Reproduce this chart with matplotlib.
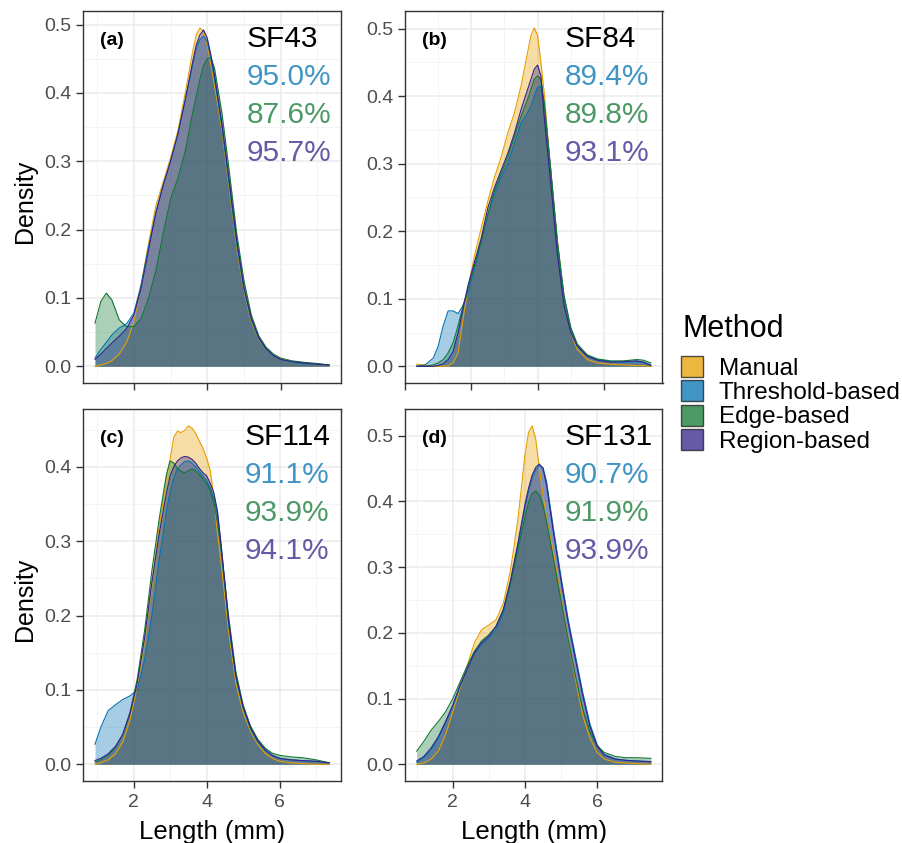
import matplotlib
matplotlib.use('Agg')
import matplotlib.pyplot as plt
from matplotlib.patches import Patch
from matplotlib.ticker import MultipleLocator, FormatStrFormatter

plt.rcParams['font.family'] = ['Liberation Sans', 'DejaVu Sans']

methods = ['Manual', 'Threshold-based', 'Edge-based', 'Region-based']
colors = ['#E69F00', '#0072B2', '#117733', '#332288']

# (a) SF43
x_a = [0.94, 1.1, 1.25, 1.4, 1.6, 1.8, 2.0, 2.2, 2.4, 2.6, 2.8, 3.0, 3.2, 3.4, 3.6, 3.7, 3.8,
       3.9, 4.0, 4.1, 4.2, 4.4, 4.6, 4.8, 5.0, 5.2, 5.4, 5.6, 5.8, 6.0, 6.3, 6.6, 7.0, 7.32]
manual_a = [0.0, 0.002, 0.004, 0.008, 0.018, 0.035, 0.065, 0.12, 0.18, 0.235, 0.27, 0.305, 0.345,
            0.40, 0.46, 0.485, 0.495, 0.49, 0.47, 0.44, 0.41, 0.345, 0.26, 0.175, 0.11, 0.065,
            0.04, 0.025, 0.015, 0.01, 0.006, 0.005, 0.003, 0.002]
thresh_a = [0.012, 0.025, 0.035, 0.046, 0.056, 0.062, 0.078, 0.12, 0.175, 0.225, 0.265, 0.30, 0.34,
            0.39, 0.44, 0.465, 0.478, 0.483, 0.475, 0.45, 0.42, 0.35, 0.265, 0.18, 0.113, 0.068,
            0.041, 0.025, 0.015, 0.01, 0.006, 0.004, 0.003, 0.002]
edge_a = [0.063, 0.095, 0.107, 0.097, 0.068, 0.058, 0.058, 0.07, 0.10, 0.14, 0.195, 0.245, 0.275,
          0.315, 0.37, 0.395, 0.42, 0.44, 0.45, 0.452, 0.435, 0.37, 0.285, 0.195, 0.125, 0.075,
          0.045, 0.028, 0.018, 0.012, 0.008, 0.006, 0.004, 0.002]
region_a = [0.01, 0.018, 0.026, 0.034, 0.044, 0.055, 0.075, 0.115, 0.17, 0.225, 0.265, 0.30, 0.34,
            0.39, 0.445, 0.47, 0.485, 0.492, 0.48, 0.455, 0.425, 0.355, 0.27, 0.185, 0.115, 0.07,
            0.042, 0.026, 0.016, 0.01, 0.007, 0.005, 0.003, 0.002]

# (b) SF84
x_b = [0.35, 0.6, 0.85, 1.0, 1.15, 1.3, 1.45, 1.6, 1.75, 1.9, 2.1, 2.3, 2.5, 2.7, 2.9, 3.1, 3.3, 3.5,
       3.7, 3.8, 3.9, 4.0, 4.1, 4.2, 4.4, 4.6, 4.8, 5.0, 5.2, 5.5, 5.8, 6.2, 6.6, 7.0, 7.2, 7.42]
manual_b = [0.003, 0.002, 0.0, 0.0, 0.0, 0.001, 0.005, 0.02, 0.07, 0.115, 0.165, 0.205, 0.245, 0.28,
            0.31, 0.345, 0.375, 0.415, 0.465, 0.49, 0.501, 0.49, 0.45, 0.405, 0.285, 0.185, 0.10,
            0.05, 0.025, 0.01, 0.005, 0.003, 0.002, 0.001, 0.001, 0.0]
thresh_b = [0.0, 0.002, 0.012, 0.03, 0.06, 0.082, 0.082, 0.078, 0.09, 0.11, 0.145, 0.185, 0.225,
            0.255, 0.28, 0.30, 0.33, 0.36, 0.375, 0.385, 0.40, 0.413, 0.415, 0.39, 0.29, 0.18, 0.1,
            0.055, 0.03, 0.015, 0.01, 0.007, 0.006, 0.007, 0.006, 0.002]
edge_b = [0.0, 0.0, 0.002, 0.005, 0.01, 0.02, 0.035, 0.06, 0.09, 0.115, 0.15, 0.185, 0.225, 0.26,
          0.285, 0.31, 0.34, 0.37, 0.395, 0.41, 0.425, 0.43, 0.425, 0.39, 0.29, 0.185, 0.105, 0.058,
          0.033, 0.017, 0.011, 0.008, 0.008, 0.01, 0.009, 0.005]
region_b = [0.0, 0.0, 0.0, 0.001, 0.004, 0.01, 0.022, 0.05, 0.085, 0.12, 0.155, 0.19, 0.235, 0.265,
            0.29, 0.315, 0.345, 0.38, 0.41, 0.425, 0.44, 0.446, 0.43, 0.37, 0.27, 0.165, 0.09, 0.05,
            0.03, 0.015, 0.009, 0.006, 0.007, 0.008, 0.006, 0.001]

# (c) SF114
x_c = [0.94, 1.1, 1.3, 1.5, 1.7, 1.9, 2.1, 2.3, 2.5, 2.7, 2.9, 3.0, 3.1, 3.2, 3.3, 3.4, 3.5, 3.6, 3.7,
       3.8, 3.9, 4.0, 4.1, 4.2, 4.3, 4.4, 4.6, 4.8, 5.0, 5.2, 5.4, 5.6, 5.8, 6.0, 6.3, 6.6, 7.0, 7.36]
manual_c = [0.0, 0.002, 0.006, 0.014, 0.03, 0.06, 0.105, 0.165, 0.24, 0.32, 0.385, 0.41, 0.44,
            0.448, 0.446, 0.449, 0.455, 0.452, 0.445, 0.435, 0.425, 0.412, 0.395, 0.36, 0.31, 0.27,
            0.18, 0.11, 0.07, 0.045, 0.027, 0.015, 0.008, 0.004, 0.002, 0.001, 0.0, 0.0]
thresh_c = [0.027, 0.05, 0.072, 0.08, 0.087, 0.092, 0.1, 0.14, 0.2, 0.275, 0.34, 0.366, 0.385, 0.397,
            0.403, 0.407, 0.408, 0.405, 0.4, 0.394, 0.388, 0.382, 0.372, 0.358, 0.335, 0.29, 0.19,
            0.118, 0.076, 0.048, 0.03, 0.019, 0.012, 0.008, 0.006, 0.005, 0.004, 0.002]
edge_c = [0.003, 0.006, 0.012, 0.022, 0.04, 0.07, 0.115, 0.18, 0.26, 0.33, 0.39, 0.408, 0.405, 0.398,
          0.394, 0.392, 0.395, 0.397, 0.395, 0.39, 0.384, 0.378, 0.368, 0.352, 0.325, 0.29, 0.2,
          0.125, 0.08, 0.052, 0.034, 0.022, 0.015, 0.012, 0.01, 0.009, 0.006, 0.002]
region_c = [0.005, 0.008, 0.014, 0.024, 0.04, 0.068, 0.11, 0.17, 0.245, 0.31, 0.365, 0.388, 0.4,
            0.408, 0.412, 0.414, 0.413, 0.41, 0.405, 0.398, 0.392, 0.388, 0.378, 0.365, 0.34, 0.295,
            0.195, 0.12, 0.078, 0.05, 0.032, 0.02, 0.012, 0.008, 0.006, 0.005, 0.004, 0.002]

# (d) SF131
x_d = [1.0, 1.2, 1.4, 1.6, 1.8, 2.0, 2.2, 2.4, 2.6, 2.8, 3.0, 3.2, 3.4, 3.6, 3.8, 3.9, 4.0, 4.1, 4.2,
       4.3, 4.4, 4.5, 4.6, 4.8, 5.0, 5.2, 5.4, 5.6, 5.8, 6.0, 6.2, 6.5, 6.8, 7.1, 7.49]
manual_d = [0.0, 0.002, 0.008, 0.02, 0.045, 0.08, 0.115, 0.15, 0.185, 0.205, 0.212, 0.22, 0.245,
            0.295, 0.37, 0.42, 0.47, 0.505, 0.515, 0.495, 0.45, 0.41, 0.375, 0.32, 0.255, 0.19, 0.13,
            0.075, 0.04, 0.018, 0.008, 0.003, 0.002, 0.001, 0.0]
thresh_d = [0.003, 0.01, 0.022, 0.04, 0.063, 0.088, 0.118, 0.145, 0.168, 0.183, 0.192, 0.205, 0.23,
            0.275, 0.33, 0.36, 0.39, 0.415, 0.435, 0.448, 0.455, 0.452, 0.43, 0.355, 0.285, 0.22,
            0.165, 0.11, 0.062, 0.03, 0.015, 0.008, 0.006, 0.005, 0.004]
edge_d = [0.02, 0.035, 0.052, 0.065, 0.08, 0.1, 0.125, 0.15, 0.172, 0.188, 0.197, 0.21, 0.235, 0.275,
          0.325, 0.35, 0.375, 0.398, 0.412, 0.416, 0.41, 0.395, 0.37, 0.31, 0.25, 0.19, 0.135, 0.085,
          0.05, 0.028, 0.018, 0.012, 0.01, 0.01, 0.009]
region_d = [0.005, 0.012, 0.025, 0.042, 0.065, 0.09, 0.12, 0.145, 0.17, 0.185, 0.195, 0.21, 0.235,
            0.28, 0.335, 0.365, 0.395, 0.42, 0.44, 0.452, 0.457, 0.45, 0.425, 0.35, 0.28, 0.215, 0.16,
            0.105, 0.058, 0.028, 0.014, 0.008, 0.006, 0.005, 0.004]

samples = ['SF43', 'SF84', 'SF114', 'SF131']
tags = ['(a)', '(b)', '(c)', '(d)']
acc_thresh = ['95.0%', '89.4%', '91.1%', '90.7%']
acc_edge = ['87.6%', '89.8%', '93.9%', '91.9%']
acc_region = ['95.7%', '93.1%', '94.1%', '93.9%']

panels = [
    (x_a, [manual_a, thresh_a, edge_a, region_a]),
    (x_b, [manual_b, thresh_b, edge_b, region_b]),
    (x_c, [manual_c, thresh_c, edge_c, region_c]),
    (x_d, [manual_d, thresh_d, edge_d, region_d]),
]

W, H = 903, 843
fig = plt.figure(figsize=(W / 100, H / 100), dpi=100)
boxes = [(83.3, 11), (405, 11), (83.3, 409), (405, 409)]
pw, ph = 257.5, 372.2
txt_x = [0.635, 0.621, 0.628, 0.621]

for i, (xs, series) in enumerate(panels):
    l, t = boxes[i]
    ax = fig.add_axes([l / W, 1 - (t + ph) / H, pw / W, ph / H])
    for ys, c in zip(series, colors):
        ax.fill_between(xs, ys, color=c, alpha=0.35, lw=0)
        ax.plot(xs, ys, color=c, lw=0.8)
    ax.margins(x=0.05, y=0.05)
    ax.xaxis.set_major_locator(MultipleLocator(2))
    ax.xaxis.set_minor_locator(MultipleLocator(1))
    ax.yaxis.set_major_locator(MultipleLocator(0.1))
    ax.yaxis.set_minor_locator(MultipleLocator(0.05))
    ax.set_axisbelow(True)
    ax.grid(which='major', color='#EBEBEB', lw=1.1)
    ax.grid(which='minor', color='#F2F2F2', lw=0.6)
    ax.tick_params(which='major', length=4.8, width=1.0, color='#333333', labelcolor='#4D4D4D',
                   labelsize=14)
    ax.tick_params(axis='y', pad=3.5)
    ax.tick_params(axis='x', pad=4.5)
    ax.tick_params(which='minor', length=0)
    ax.yaxis.set_major_formatter(FormatStrFormatter('%.1f'))
    if i < 2:
        ax.tick_params(axis='x', labelbottom=False)
    for s in ax.spines.values():
        s.set_color('#333333')
        s.set_linewidth(1.0)
    ax.text(0.065, 0.909, tags[i], transform=ax.transAxes, fontsize=14, fontweight='bold')
    ax.text(txt_x[i], 0.904, samples[i], transform=ax.transAxes, fontsize=21.5, color='black')
    ax.text(txt_x[i], 0.801, acc_thresh[i], transform=ax.transAxes, fontsize=21.5, color=colors[1], alpha=0.75)
    ax.text(txt_x[i], 0.700, acc_edge[i], transform=ax.transAxes, fontsize=21.5, color=colors[2], alpha=0.75)
    ax.text(txt_x[i], 0.598, acc_region[i], transform=ax.transAxes, fontsize=21.5, color=colors[3], alpha=0.75)

for yc in [(11 + ph / 2), (409 + ph / 2)]:
    fig.text(25 / W, 1 - (yc + 4) / H, 'Density', rotation=90, ha='center', va='center', fontsize=18)
for xc in [83.3 + pw / 2, 405 + pw / 2]:
    fig.text(xc / W, 1 - 839 / H, 'Length (mm)', ha='center', va='baseline', fontsize=18.5)

fig.text(683 / W, 1 - 337 / H, 'Method', ha='left', va='baseline', fontsize=22)
handles = [Patch(facecolor=c, alpha=0.75, edgecolor='#1A1A1A', lw=1.0) for c in colors]
fig.legend(handles, methods, loc='upper left', bbox_to_anchor=(681 / W, 1 - 356 / H),
           frameon=False, fontsize=17.5, handlelength=0.9, handleheight=0.95,
           labelspacing=0.02, handletextpad=0.65, borderpad=0, borderaxespad=0)

fig.savefig('out.png', dpi=100)
